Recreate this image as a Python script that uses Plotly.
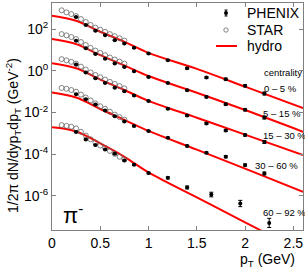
import numpy as np
import plotly.graph_objects as go

# ---------------- data (log10 of 1/2pi dN/dy pT dpT) ----------------
centralities = ["0 – 5 %", "5 – 15 %", "15 – 30 %", "30 – 60 %", "60 – 92 %"]

hydro_pt = [0.0, 0.25, 0.5, 0.75, 1.0, 1.5, 2.0, 2.6]
hydro_log_0_5 = [2.64, 2.40, 1.87, 1.39, 0.86, 0.09, -0.76, -1.79]
hydro_log_5_15 = [1.52, 1.28, 0.75, 0.26, -0.25, -1.05, -1.88, -2.92]
hydro_log_15_30 = [0.36, 0.12, -0.42, -0.92, -1.44, -2.25, -3.06, -4.04]
hydro_log_30_60 = [-1.04, -1.28, -1.83, -2.35, -2.88, -3.78, -4.69, -5.80]
hydro_log_60_92 = [-2.71, -2.91, -3.48, -4.12, -4.87, -6.07, -7.26, -8.70]

phenix_pt = [0.25, 0.35, 0.45, 0.55, 0.65, 0.75, 0.85, 1.0, 1.2, 1.4, 1.6, 1.8, 2.0, 2.2]
phenix_pt_periph = [0.25, 0.35, 0.45, 0.55, 0.65, 0.75, 0.85, 1.0, 1.2, 1.4, 1.65, 1.95, 2.25]
phenix_log_0_5 = [2.58, 2.19, 1.92, 1.71, 1.47, 1.31, 1.10, 0.83, 0.51, 0.12, -0.32, -0.40, -0.72, -1.09]
phenix_log_5_15 = [1.44, 1.08, 0.80, 0.58, 0.35, 0.18, -0.02, -0.30, -0.58, -0.93, -1.25, -1.60, -1.87, -2.24]
phenix_log_15_30 = [0.30, -0.08, -0.36, -0.58, -0.81, -0.98, -1.18, -1.45, -1.82, -2.14, -2.52, -2.86, -3.08, -3.41]
phenix_log_30_60 = [-1.12, -1.36, -1.62, -1.90, -2.18, -2.43, -2.65, -2.89, -3.21, -3.60, -3.93, -4.12, -4.52, -4.92]
phenix_log_60_92 = [-2.93, -3.29, -3.56, -3.77, -3.98, -4.30, -4.50, -4.90, -5.13, -5.59, -5.93, -6.36, -7.29]
# error sizes in decades
phenix_err = [0.02, 0.02, 0.02, 0.02, 0.02, 0.02, 0.03, 0.03, 0.03, 0.04, 0.04, 0.05, 0.05, 0.07]
phenix_err_periph = [0.03, 0.03, 0.03, 0.03, 0.03, 0.03, 0.04, 0.04, 0.05, 0.07, 0.11, 0.15, 0.22]

star_pt = [0.1, 0.15, 0.2, 0.25, 0.3, 0.35, 0.4, 0.45, 0.5, 0.55, 0.6, 0.65, 0.7, 0.75]
star_log_0_5 = [2.90, 2.80, 2.72, 2.62, 2.48, 2.34, 2.20, 2.07, 1.97, 1.87, 1.76, 1.66, 1.56, 1.45]
star_log_5_15 = [1.76, 1.70, 1.62, 1.52, 1.38, 1.24, 1.10, 0.97, 0.86, 0.75, 0.64, 0.54, 0.44, 0.34]
star_log_15_30 = [0.56, 0.50, 0.43, 0.34, 0.20, 0.06, -0.08, -0.20, -0.31, -0.42, -0.53, -0.63, -0.73, -0.84]
star_log_30_60 = [-0.82, -0.86, -0.92, -1.00, -1.14, -1.28, -1.42, -1.56, -1.70, -1.82, -1.96, -2.10, -2.22, -2.34]
star_log_60_92 = [-2.60, -2.64, -2.68, -2.76, -2.92, -3.10, -3.28, -3.44, -3.58, -3.70, -3.84, -3.98, -4.12, -4.24]

y_tickvals = [1e-6, 1e-4, 1e-2, 1, 1e2]
y_ticktext = ["10<sup>-6</sup>", "10<sup>-4</sup>", "10<sup>-2</sup>", "10<sup>0</sup>", "10<sup>2</sup>"]
x_tickvals = [0, 0.5, 1, 1.5, 2, 2.5]
x_ticktext = ["0", "0.5", "1", "1.5", "2", "2.5"]
legend_names = ["PHENIX", "STAR", "hydro"]

hydro_sets = [hydro_log_0_5, hydro_log_5_15, hydro_log_15_30, hydro_log_30_60, hydro_log_60_92]
phenix_sets = [phenix_log_0_5, phenix_log_5_15, phenix_log_15_30, phenix_log_30_60, phenix_log_60_92]
star_sets = [star_log_0_5, star_log_5_15, star_log_15_30, star_log_30_60, star_log_60_92]

FONT = "Liberation Sans, Arial, sans-serif"
W, H = 305, 273
ML, MR, MT, MB = 52, 2, 3, 43
PW, PH = W - ML - MR, H - MT - MB


def px2paper(px, py):
    return (px - ML) / PW, (H - MB - py) / PH


fig = go.Figure()

for i in range(5):
    hy = 10 ** np.array(hydro_sets[i])
    fig.add_trace(go.Scatter(x=hydro_pt, y=hy, mode="lines",
                             line=dict(color="#ff0000", width=2, shape="spline"),
                             name="hydro", showlegend=False))

for i in range(5):
    sy = 10 ** np.array(star_sets[i])
    fig.add_trace(go.Scatter(x=star_pt, y=sy, mode="markers",
                             marker=dict(symbol="circle-open", size=5, color="#666666", line=dict(width=0.8)),
                             name="STAR", showlegend=False))

for i in range(5):
    if i == 4:
        pxs, e = phenix_pt_periph, np.array(phenix_err_periph)
    else:
        pxs, e = phenix_pt, np.array(phenix_err)
    py = 10 ** np.array(phenix_sets[i])
    fig.add_trace(go.Scatter(x=pxs, y=py, mode="markers",
                             marker=dict(symbol="circle", size=4, color="black"),
                             error_y=dict(type="data", symmetric=False, array=py * (10 ** e - 1),
                                          arrayminus=py * (1 - 10 ** (-e)), color="black", thickness=1, width=2),
                             name="PHENIX", showlegend=False))

# ---- legend (keys drawn as paper-space shapes) ----
leg_rows = [13, 30, 46]
for name, ry in zip(legend_names, leg_rows):
    tx, ty = px2paper(245, ry)
    fig.add_annotation(x=tx, y=ty, xref="paper", yref="paper", text=name, showarrow=False,
                       xanchor="left", yanchor="middle", font=dict(size=14, family=FONT, color="black"))
# PHENIX key
cx, cy = px2paper(226, leg_rows[0])
fig.add_shape(type="circle", xref="paper", yref="paper", x0=cx - 2 / PW, x1=cx + 2 / PW,
              y0=cy - 2 / PH, y1=cy + 2 / PH, fillcolor="black", line=dict(width=0))
fig.add_shape(type="line", xref="paper", yref="paper", x0=cx - 1.5 / PW, x1=cx + 1.5 / PW,
              y0=cy + 3 / PH, y1=cy + 3 / PH, line=dict(color="black", width=1))
fig.add_shape(type="line", xref="paper", yref="paper", x0=cx - 1.5 / PW, x1=cx + 1.5 / PW,
              y0=cy - 3 / PH, y1=cy - 3 / PH, line=dict(color="black", width=1))
fig.add_shape(type="line", xref="paper", yref="paper", x0=cx, x1=cx,
              y0=cy - 3 / PH, y1=cy + 3 / PH, line=dict(color="black", width=1))
# STAR key
cx, cy = px2paper(226, leg_rows[1])
fig.add_shape(type="circle", xref="paper", yref="paper", x0=cx - 2.2 / PW, x1=cx + 2.2 / PW,
              y0=cy - 2.2 / PH, y1=cy + 2.2 / PH, line=dict(color="#666666", width=0.8))
# hydro key
x0, cy = px2paper(216, leg_rows[2])
x1, _ = px2paper(237, leg_rows[2])
fig.add_shape(type="line", xref="paper", yref="paper", x0=x0, x1=x1, y0=cy, y1=cy,
              line=dict(color="#ff0000", width=2))

# ---- centrality labels ----
cent_px = [(262, 88), (261, 113), (261, 135.5), (253, 165), (261, 212)]
lx, ly = px2paper(262, 72)
fig.add_annotation(x=lx, y=ly, xref="paper", yref="paper", text="centrality", showarrow=False,
                   xanchor="left", yanchor="middle", font=dict(size=9.5, family=FONT, color="black"))
for lab, (qx, qy) in zip(centralities, cent_px):
    lx, ly = px2paper(qx, qy)
    fig.add_annotation(x=lx, y=ly, xref="paper", yref="paper", text=lab, showarrow=False,
                       xanchor="left", yanchor="middle", font=dict(size=9.5, family=FONT, color="black"))

lx, ly = px2paper(61, 214)
fig.add_annotation(x=lx, y=ly, xref="paper", yref="paper", text="π<sup>-</sup>", showarrow=False,
                   xanchor="left", yanchor="middle", font=dict(size=22, family=FONT, color="black"))

# axis titles
lx, ly = px2paper(297, 260)
fig.add_annotation(x=lx, y=ly, xref="paper", yref="paper", text="p<sub>T</sub> (GeV)", showarrow=False,
                   xanchor="right", yanchor="middle", font=dict(size=14, family=FONT, color="black"))
lx, ly = px2paper(13, 136)
fig.add_annotation(x=lx, y=ly, xref="paper", yref="paper",
                   text="1/2π dN/dyp<sub>T</sub>dp<sub>T</sub> (GeV<sup>-2</sup>)", showarrow=False,
                   textangle=-90, xanchor="center", yanchor="middle",
                   font=dict(size=14, family=FONT, color="black"))

axis_common = dict(showline=True, linecolor="#808080", linewidth=1, mirror="ticks", ticks="inside",
                   ticklen=4, tickcolor="#808080", showgrid=False, zeroline=False,
                   tickfont=dict(size=14, family=FONT, color="black"))
fig.update_xaxes(range=[0, 2.6], tickvals=x_tickvals, ticktext=x_ticktext, **axis_common)
fig.update_yaxes(type="log", range=[-7.63, 3.25], tickvals=y_tickvals, ticktext=y_ticktext, **axis_common)

fig.update_layout(width=W, height=H, margin=dict(l=ML, r=MR, t=MT, b=MB),
                  paper_bgcolor="white", plot_bgcolor="white", showlegend=False,
                  font=dict(family=FONT, color="black"))

fig.write_html("out.html", config={"displayModeBar": False},
               post_script="document.body.style.margin='0';")
